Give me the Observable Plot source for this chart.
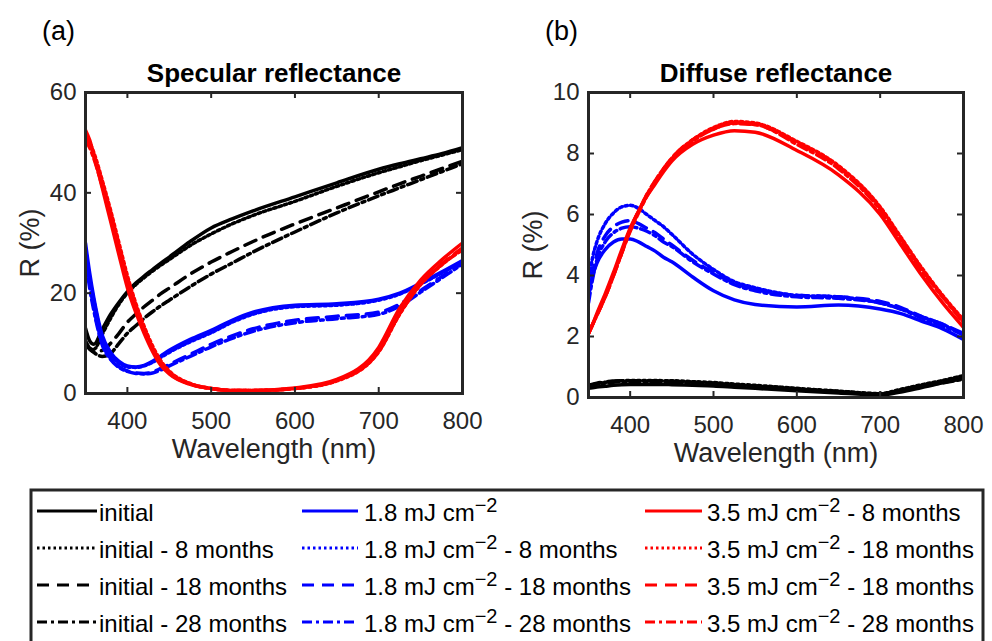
<!DOCTYPE html>
<html><head><meta charset="utf-8">
<script src="https://cdn.jsdelivr.net/npm/d3@7"></script>
<script src="https://cdn.jsdelivr.net/npm/@observablehq/plot@0.6"></script>
<style>
html,body{margin:0;padding:0;background:#fff;}
#fig{position:relative;width:992px;height:641px;overflow:hidden;background:#fff;font-family:"Liberation Sans",Arial,sans-serif;}
#fig .panel{position:absolute;top:0;}
#overlay{position:absolute;left:0;top:0;}
</style></head>
<body><div id="fig"><div id="pa" class="panel" style="left:0px"></div><div id="pb" class="panel" style="left:500px"></div></div>
<script>
// ---------- data ----------
const wavelength = [350,355,360,370,380,390,400,410,420,430,440,450,475,500,525,550,600,650,700,725,750,775,800];
const xTicks = [400,500,600,700,800];
const specYTicks = [0,20,40,60];
const diffYTicks = [0,2,4,6,8,10];

// Specular reflectance (%)
const specInitial   = [13,10.5,9.8,12.8,15.8,18.2,20.3,22,23.4,24.7,26,27.2,30.3,33,34.8,36.4,39.2,42,44.7,45.8,46.8,47.8,49];
const specInitial8  = [10,9,8.8,11.8,15,17.8,20,21.7,23.1,24.4,25.6,26.7,29.5,31.8,33.8,35.5,38.3,41.3,44,45.2,46.4,47.5,48.6];
const specInitial18 = [10,8.8,8.3,8.6,10,12,14.2,15.8,17.3,18.6,19.9,21,23.8,26.2,28.3,30.3,33.8,37,40.2,41.8,43.3,44.8,46.3];
const specInitial28 = [10.5,9,8.2,7.4,8,10,12,13.5,15,16.3,17.5,18.6,21.3,23.8,26,28.2,32.2,36,39.4,41,42.6,44.2,45.8];
const specLow       = [30,24,19,11.6,8.2,6.4,5.5,5.3,5.6,6.4,7.5,8.6,10.8,12.6,14.6,16.2,17.6,17.9,18.8,20,22,24.2,26.5];
const specLow8      = [29,23,18.5,11,7.8,6,5.3,5.2,5.5,6.2,7.2,8.2,10.3,12.1,14.2,15.8,17.3,17.6,18.6,19.8,21.8,24,26.3];
const specLow18     = [28,22,17,10,7,5.3,4.5,4.1,4,4.3,5,5.8,7.8,9.8,11.5,12.9,14.6,15.4,16.2,17.8,20.5,23.3,26];
const specLow28     = [27,21,16.5,9.7,6.8,5.2,4.4,4,3.9,4.1,4.7,5.5,7.4,9.3,11,12.4,14.1,14.9,15.8,17.4,20.2,23,25.8];
const specHigh8     = [52.5,50.5,47.5,41,34.3,27.6,21.1,16.2,12,8.4,5.6,3.9,1.8,1,0.6,0.6,1.1,2.8,9.2,17,22.6,26.6,30];
const specHigh18dot = [51.5,50,48,42.5,36.5,30,23.5,18,13.4,9.5,6.5,4.5,2,1,0.6,0.6,1,2.5,8.3,15.8,21.7,25.6,28.8];
const specHigh18    = [51,49.5,47.2,41.8,35.7,29.2,22.6,17.2,12.8,9,6.1,4.2,1.9,1,0.6,0.6,1,2.6,8.5,16,21.9,25.8,29];
const specHigh28    = [50.5,49,46.8,41.3,35.2,28.7,22.2,16.9,12.5,8.8,6,4.1,1.9,1,0.6,0.6,1,2.6,8.4,15.9,21.8,25.7,28.6];

// Diffuse reflectance (%)
const diffInitial   = [0.30,0.32,0.34,0.37,0.40,0.42,0.43,0.43,0.43,0.43,0.43,0.42,0.40,0.38,0.34,0.30,0.22,0.15,0.08,0.18,0.33,0.48,0.65];
const diffInitial8  = [0.38,0.42,0.45,0.50,0.53,0.55,0.56,0.56,0.56,0.56,0.55,0.55,0.52,0.49,0.44,0.40,0.30,0.21,0.13,0.27,0.42,0.56,0.72];
const diffInitial18 = [0.40,0.44,0.47,0.51,0.54,0.55,0.55,0.55,0.55,0.55,0.54,0.53,0.50,0.47,0.42,0.38,0.29,0.20,0.12,0.24,0.38,0.50,0.62];
const diffInitial28 = [0.35,0.40,0.43,0.47,0.50,0.52,0.52,0.52,0.52,0.52,0.51,0.50,0.47,0.44,0.40,0.36,0.27,0.19,0.11,0.22,0.36,0.48,0.60];
const diffLow       = [3.4,4.0,4.4,4.85,5.1,5.2,5.2,5.1,4.95,4.8,4.6,4.45,3.95,3.5,3.2,3.05,2.97,3.03,2.9,2.75,2.5,2.25,1.9];
const diffLow8      = [3.8,4.6,5.1,5.7,6.05,6.25,6.3,6.2,6.0,5.8,5.6,5.35,4.7,4.2,3.8,3.6,3.35,3.3,3.1,2.9,2.65,2.4,2.05];
const diffLow18     = [3.3,4.1,4.7,5.3,5.6,5.75,5.8,5.7,5.55,5.4,5.2,5.0,4.5,4.1,3.75,3.55,3.35,3.3,3.15,2.95,2.65,2.4,2.1];
const diffLow28     = [3.1,3.9,4.5,5.1,5.4,5.55,5.6,5.55,5.45,5.3,5.1,4.95,4.45,4.05,3.7,3.5,3.3,3.25,3.1,2.9,2.6,2.35,2.05];
const diffHigh8     = [2.1,2.4,2.75,3.4,4.1,4.85,5.55,6.1,6.6,7.0,7.4,7.75,8.3,8.6,8.75,8.7,8.1,7.3,6.0,5.0,4.0,3.1,2.3];
const diffHigh18dot = [2.1,2.4,2.7,3.3,4.0,4.75,5.5,6.1,6.65,7.1,7.5,7.85,8.45,8.85,9.05,9.0,8.4,7.6,6.25,5.25,4.25,3.35,2.55];
const diffHigh18    = [2.1,2.4,2.7,3.3,4.0,4.75,5.5,6.1,6.65,7.1,7.5,7.85,8.45,8.8,9.0,8.95,8.35,7.55,6.2,5.2,4.2,3.3,2.5];
const diffHigh28    = [2.1,2.4,2.7,3.3,4.0,4.75,5.45,6.05,6.6,7.05,7.45,7.8,8.4,8.8,8.98,8.95,8.3,7.5,6.15,5.15,4.15,3.3,2.45];

const seriesKeys = ["initial","initial8","initial18","initial28","low","low8","low18","low28","high8","high18dot","high18","high28"];
const legendLabels = [
  "initial","initial - 8 months","initial - 18 months","initial - 28 months",
  "1.8 mJ cm^−2","1.8 mJ cm^−2 - 8 months","1.8 mJ cm^−2 - 18 months","1.8 mJ cm^−2 - 28 months",
  "3.5 mJ cm^−2 - 8 months","3.5 mJ cm^−2 - 18 months","3.5 mJ cm^−2 - 18 months","3.5 mJ cm^−2 - 28 months"
];
const specSeries = [specInitial,specInitial8,specInitial18,specInitial28,specLow,specLow8,specLow18,specLow28,specHigh8,specHigh18dot,specHigh18,specHigh28];
const diffSeries = [diffInitial,diffInitial8,diffInitial18,diffInitial28,diffLow,diffLow8,diffLow18,diffLow28,diffHigh8,diffHigh18dot,diffHigh18,diffHigh28];

// ---------- styles ----------
const DOT = "2.5,3", DASH = "12,8", DASHDOT = "10,4,3,4";
const styleOf = {
  initial:{color:"#000000",dash:null}, initial8:{color:"#000000",dash:DOT}, initial18:{color:"#000000",dash:DASH}, initial28:{color:"#000000",dash:DASHDOT},
  low:{color:"#0000ff",dash:null}, low8:{color:"#0000ff",dash:DOT}, low18:{color:"#0000ff",dash:DASH}, low28:{color:"#0000ff",dash:DASHDOT},
  high8:{color:"#ff0000",dash:null}, high18dot:{color:"#ff0000",dash:DOT}, high18:{color:"#ff0000",dash:DASH}, high28:{color:"#ff0000",dash:DASHDOT}
};
const AXIS = "#262626";
const FONT = "'Liberation Sans', Arial, sans-serif";

function panel(cfg) {
  const {series, yDomain, yTicks, title, width, height, ml, mr, mt, mb} = cfg;
  const pw = width - ml - mr, ph = height - mt - mb;
  const marks = [];
  seriesKeys.forEach((k, i) => {
    const data = wavelength.map((w, j) => ({w, r: series[i][j]}));
    const s = styleOf[k];
    const opts = {x: "w", y: "r", stroke: s.color, strokeWidth: 3.5, curve: "monotone-x", clip: true};
    if (s.dash) opts.strokeDasharray = s.dash;
    marks.push(Plot.line(data, opts));
  });
  const tick = {stroke: AXIS, strokeWidth: 2};
  marks.push(Plot.ruleX(xTicks, {x: d => d, insetTop: ph - 6, ...tick}));
  marks.push(Plot.ruleX(xTicks, {x: d => d, insetBottom: ph - 6, ...tick}));
  marks.push(Plot.ruleY(yTicks, {y: d => d, insetRight: pw - 6, ...tick}));
  marks.push(Plot.ruleY(yTicks, {y: d => d, insetLeft: pw - 6, ...tick}));
  marks.push(Plot.frame({stroke: AXIS, strokeWidth: 3}));
  marks.push(Plot.axisX({ticks: xTicks, tickSize: 0, tickPadding: 18, label: null, fontSize: 24}));
  marks.push(Plot.axisY({ticks: yTicks, tickSize: 0, tickPadding: 9, label: null, fontSize: 24}));
  marks.push(Plot.text([title], {text: d => d, frameAnchor: "top", dy: -19, fontWeight: "bold", fontSize: 26, fill: "#000", lineAnchor: "middle", textAnchor: "middle"}));
  marks.push(Plot.text(["Wavelength (nm)"], {text: d => d, frameAnchor: "bottom", dy: 56, fontSize: 27, fill: AXIS, lineAnchor: "middle", textAnchor: "middle"}));
  marks.push(Plot.text(["R (%)"], {text: d => d, frameAnchor: "left", dx: -55, rotate: -90, fontSize: 27, fill: AXIS, lineAnchor: "middle", textAnchor: "middle"}));
  return Plot.plot({
    width, height, marginLeft: ml, marginRight: mr, marginTop: mt, marginBottom: mb,
    x: {domain: [350, 800]}, y: {domain: yDomain},
    style: {fontFamily: FONT, fontSize: "24px", color: AXIS, background: "transparent", overflow: "visible"},
    marks
  });
}

document.getElementById("pa").appendChild(panel({
  series: specSeries, yDomain: [0, 60], yTicks: specYTicks, title: "Specular reflectance",
  width: 490, height: 480, ml: 85, mr: 28, mt: 92, mb: 87
}));
document.getElementById("pb").appendChild(panel({
  series: diffSeries, yDomain: [0, 10], yTicks: diffYTicks, title: "Diffuse reflectance",
  width: 492, height: 480, ml: 88, mr: 29, mt: 92, mb: 83
}));

// ---------- overlay: panel letters and legend ----------
const svg = d3.select("#fig").append("svg").attr("id", "overlay")
  .attr("width", 992).attr("height", 641).style("font-family", FONT).style("pointer-events", "none");
svg.append("text").attr("x", 42).attr("y", 40).attr("font-size", 27).attr("fill", "#000").text("(a)");
svg.append("text").attr("x", 545).attr("y", 40).attr("font-size", 27).attr("fill", "#000").text("(b)");

svg.append("rect").attr("x", 31).attr("y", 490).attr("width", 952).attr("height", 170)
  .attr("fill", "none").attr("stroke", AXIS).attr("stroke-width", 3);
const cols = [{x1: 37, x2: 97, tx: 99}, {x1: 302, x2: 358, tx: 364}, {x1: 645, x2: 702, tx: 707}];
const rowY = [511, 548, 585, 622];
seriesKeys.forEach((k, i) => {
  const c = cols[Math.floor(i / 4)], y = rowY[i % 4], s = styleOf[k];
  const ln = svg.append("line").attr("x1", c.x1).attr("x2", c.x2).attr("y1", y).attr("y2", y)
    .attr("stroke", s.color).attr("stroke-width", 3);
  if (s.dash) ln.attr("stroke-dasharray", s.dash);
  const t = svg.append("text").attr("x", c.tx).attr("y", y + 10).attr("font-size", 24).attr("fill", "#000");
  const parts = legendLabels[i].split("^");
  if (parts.length === 1) { t.text(parts[0]); }
  else {
    const m = parts[1].match(/^(−\d)(.*)$/);
    t.append("tspan").text(parts[0]);
    t.append("tspan").attr("dy", -9).attr("font-size", 20).text(m[1]);
    t.append("tspan").attr("dy", 9).text(m[2].replace(/ /g, "\u00a0"));
  }
});
</script>
</body></html>
